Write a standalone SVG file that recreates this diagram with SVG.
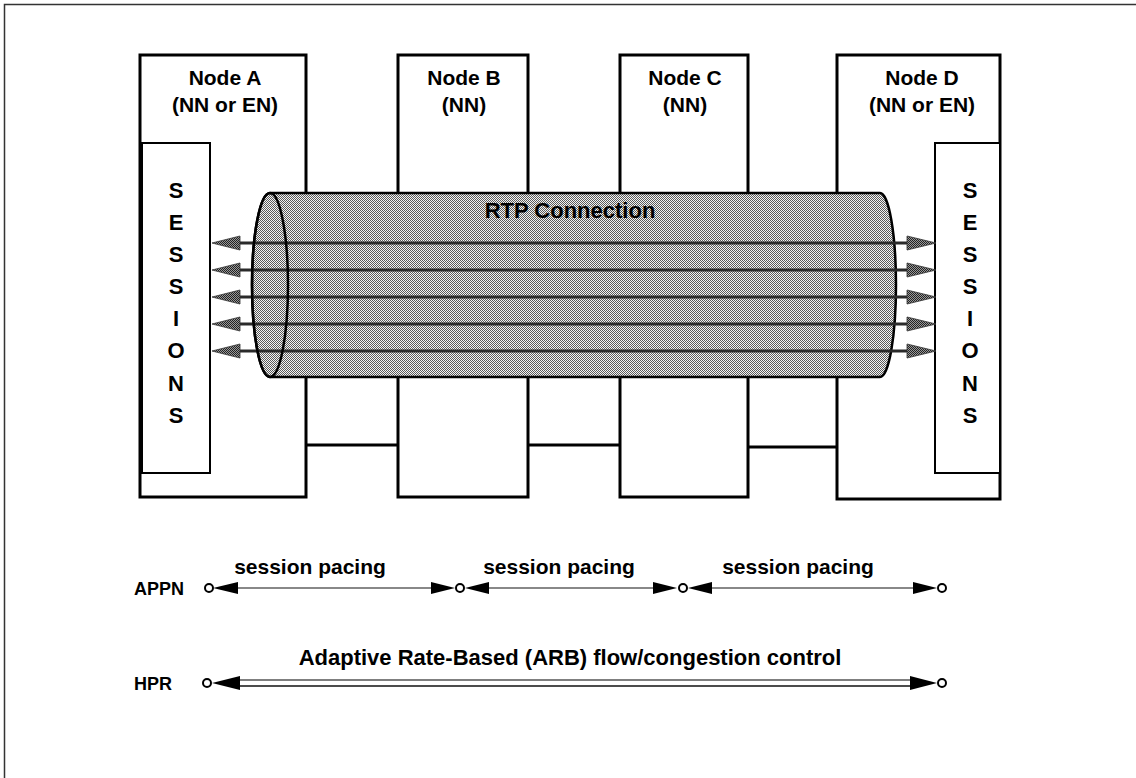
<svg xmlns="http://www.w3.org/2000/svg" width="1136" height="778" viewBox="0 0 1136 778">
<style>
.t{font-family:"Liberation Sans",Arial,sans-serif;font-weight:bold;fill:#000}
.lbl{font-size:21px;text-anchor:middle}
.let{font-size:22px;text-anchor:middle}
.sm{font-size:18px}
.box{fill:#fff;stroke:#000;stroke-width:3}
.sbox{fill:#fff;stroke:#000;stroke-width:2}
.link{stroke:#000;stroke-width:3;fill:none}
.flow{stroke:#2a2a2a;stroke-width:3}
.ah{fill:url(#dark);stroke:#333;stroke-width:0.8}
.bh{fill:#000}
.dot{fill:#fff;stroke:#000;stroke-width:2}
</style>
<defs>
<pattern id="dither" width="2" height="2" patternUnits="userSpaceOnUse">
<rect width="2" height="2" fill="#f4f4f4"/>
<rect width="1" height="1" fill="#5a5a5a"/>
<rect x="1" y="1" width="1" height="1" fill="#5a5a5a"/>
</pattern>
<pattern id="dark" width="2" height="2" patternUnits="userSpaceOnUse">
<rect width="2" height="2" fill="#999"/>
<rect width="1" height="1" fill="#222"/>
<rect x="1" y="1" width="1" height="1" fill="#222"/>
</pattern>
</defs>
<rect width="1136" height="778" fill="#fff"/>
<path d="M4.5 778 V4.5 H1136" fill="none" stroke="#333" stroke-width="1.5"/>

<g id="links">
<line class="link" x1="306" y1="445" x2="398" y2="445"/>
<line class="link" x1="528" y1="445" x2="620" y2="445"/>
<line class="link" x1="748" y1="447" x2="837" y2="447"/>
</g>

<g id="nodeA">
<rect class="box" x="140" y="55" width="166" height="442"/>
<rect class="sbox" x="142" y="143" width="68" height="330"/>
<text class="t lbl" x="225" y="85">Node A</text>
<text class="t lbl" x="225" y="112">(NN or EN)</text>
<g class="t let">
<text x="176" y="198">S</text><text x="176" y="230">E</text><text x="176" y="262">S</text><text x="176" y="294">S</text>
<text x="176" y="326">I</text><text x="176" y="358">O</text><text x="176" y="391">N</text><text x="176" y="423">S</text>
</g>
</g>

<g id="nodeB">
<rect class="box" x="398" y="55" width="130" height="442"/>
<text class="t lbl" x="464" y="85">Node B</text>
<text class="t lbl" x="464" y="112">(NN)</text>
</g>

<g id="nodeC">
<rect class="box" x="620" y="55" width="128" height="442"/>
<text class="t lbl" x="685" y="85">Node C</text>
<text class="t lbl" x="685" y="112">(NN)</text>
</g>

<g id="nodeD">
<rect class="box" x="837" y="55" width="163" height="444"/>
<rect class="sbox" x="935" y="143" width="65" height="330"/>
<text class="t lbl" x="922" y="85">Node D</text>
<text class="t lbl" x="922" y="112">(NN or EN)</text>
<g class="t let">
<text x="970" y="198">S</text><text x="970" y="230">E</text><text x="970" y="262">S</text><text x="970" y="294">S</text>
<text x="970" y="326">I</text><text x="970" y="358">O</text><text x="970" y="391">N</text><text x="970" y="423">S</text>
</g>
</g>

<g id="rtp">
<path d="M270 193 H880 A16 92 0 0 1 880 377 H270 A18 92 0 0 1 270 193 Z" fill="url(#dither)" stroke="#000" stroke-width="2.5"/>
<text class="t lbl" x="570" y="218" style="font-size:22px">RTP Connection</text>
</g>

<g id="flows">
<g>
<line class="flow" x1="236" y1="243" x2="910" y2="243"/>
<line class="flow" x1="236" y1="270" x2="910" y2="270"/>
<line class="flow" x1="236" y1="297" x2="910" y2="297"/>
<line class="flow" x1="236" y1="324" x2="910" y2="324"/>
<line class="flow" x1="236" y1="351" x2="910" y2="351"/>
</g>
<g>
<polygon class="ah" points="212,243 240,236 240,250"/>
<polygon class="ah" points="212,270 240,263 240,277"/>
<polygon class="ah" points="212,297 240,290 240,304"/>
<polygon class="ah" points="212,324 240,317 240,331"/>
<polygon class="ah" points="212,351 240,344 240,358"/>
<polygon class="ah" points="936,243 907,236 907,250"/>
<polygon class="ah" points="936,270 907,263 907,277"/>
<polygon class="ah" points="936,297 907,290 907,304"/>
<polygon class="ah" points="936,324 907,317 907,331"/>
<polygon class="ah" points="936,351 907,344 907,358"/>
</g>
<ellipse cx="270" cy="285" rx="18" ry="92" fill="none" stroke="#000" stroke-width="2.5"/>
</g>

<g id="appn">
<text class="t sm" x="134" y="595">APPN</text>
<line x1="236" y1="588" x2="433" y2="588" stroke="#888" stroke-width="2"/>
<line x1="487" y1="588" x2="655" y2="588" stroke="#888" stroke-width="2"/>
<line x1="710" y1="588" x2="915" y2="588" stroke="#888" stroke-width="2"/>
<polygon class="bh" points="213,588 238,582 238,594"/>
<polygon class="bh" points="455,588 431,582 431,594"/>
<polygon class="bh" points="465,588 489,582 489,594"/>
<polygon class="bh" points="677,588 653,582 653,594"/>
<polygon class="bh" points="688,588 712,582 712,594"/>
<polygon class="bh" points="937,588 913,582 913,594"/>
<circle class="dot" cx="209" cy="588" r="4"/>
<circle class="dot" cx="460" cy="588" r="4"/>
<circle class="dot" cx="683" cy="588" r="4"/>
<circle class="dot" cx="942" cy="588" r="4"/>
<text class="t lbl" x="310" y="574">session pacing</text>
<text class="t lbl" x="559" y="574">session pacing</text>
<text class="t lbl" x="798" y="574">session pacing</text>
</g>

<g id="hpr">
<text class="t sm" x="134" y="690">HPR</text>
<line x1="238" y1="680" x2="912" y2="680" stroke="#555" stroke-width="1.5"/>
<line x1="238" y1="686" x2="912" y2="686" stroke="#111" stroke-width="1.5"/>
<polygon class="bh" points="212,683 240,676 240,690"/>
<polygon class="bh" points="937,683 910,676 910,690"/>
<circle class="dot" cx="207" cy="683" r="4"/>
<circle class="dot" cx="942" cy="683" r="4"/>
<text class="t lbl" x="570" y="665" style="font-size:22px">Adaptive Rate-Based (ARB) flow/congestion control</text>
</g>
</svg>
